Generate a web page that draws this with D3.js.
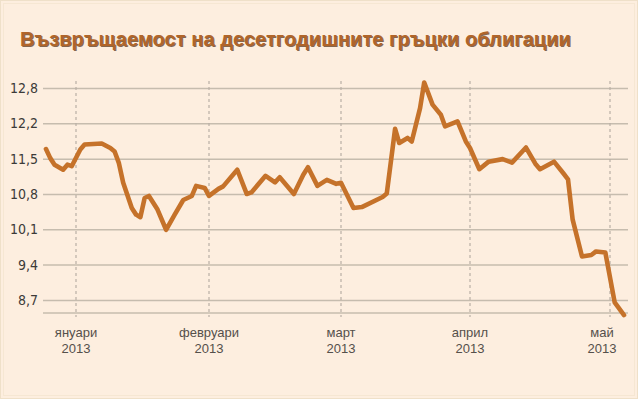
<!DOCTYPE html>
<html>
<head>
<meta charset="utf-8">
<script src="https://cdn.jsdelivr.net/npm/d3@7"></script>
<style>
  html, body { margin: 0; padding: 0; background: #fdeedf; }
  svg { display: block; }
</style>
</head>
<body>
<div id="chart"></div>
<script>
/**
 * CONSTANTS AND GLOBALS
 * */
const width = 638,
  height = 399;

const title = "Възвръщаемост на десетгодишните гръцки облигации";

// yield readings, one per turning point of the line
const dates = [
  "2012-12-25", "2012-12-26", "2012-12-27", "2012-12-29", "2012-12-30", "2012-12-31",
  "2013-01-02", "2013-01-03", "2013-01-07", "2013-01-09", "2013-01-10", "2013-01-11",
  "2013-01-12", "2013-01-14", "2013-01-15", "2013-01-16", "2013-01-17", "2013-01-18",
  "2013-01-20", "2013-01-22", "2013-01-24", "2013-01-26", "2013-01-28", "2013-01-29",
  "2013-01-31", "2013-02-01", "2013-02-03", "2013-02-04", "2013-02-07", "2013-02-09",
  "2013-02-10", "2013-02-13", "2013-02-15", "2013-02-16", "2013-02-19", "2013-02-21",
  "2013-02-22", "2013-02-24", "2013-02-26", "2013-02-28", "2013-03-01", "2013-03-04",
  "2013-03-06", "2013-03-11", "2013-03-12", "2013-03-14", "2013-03-15", "2013-03-17",
  "2013-03-18", "2013-03-20", "2013-03-21", "2013-03-23", "2013-03-25", "2013-03-26",
  "2013-03-29", "2013-03-31", "2013-04-01", "2013-04-03", "2013-04-05", "2013-04-08",
  "2013-04-10", "2013-04-13", "2013-04-15", "2013-04-16", "2013-04-19", "2013-04-21",
  "2013-04-22", "2013-04-23", "2013-04-25", "2013-04-27", "2013-04-28", "2013-04-30",
  "2013-05-02", "2013-05-04"
];
const yields = [
  11.69, 11.51, 11.38, 11.28, 11.38, 11.35,
  11.68, 11.78, 11.80, 11.71, 11.64, 11.41,
  11.02, 10.52, 10.39, 10.34, 10.72, 10.76,
  10.49, 10.09, 10.39, 10.68, 10.76, 10.96,
  10.92, 10.76, 10.90, 10.95, 11.28, 10.80,
  10.83, 11.16, 11.03, 11.13, 10.80, 11.18,
  11.33, 10.96, 11.08, 11.00, 11.02, 10.52,
  10.54, 10.74, 10.81, 12.09, 11.81, 11.91,
  11.84, 12.50, 13.01, 12.57, 12.37, 12.14,
  12.24, 11.84, 11.71, 11.29, 11.44, 11.49,
  11.42, 11.72, 11.40, 11.29, 11.44, 11.21,
  11.09, 10.29, 9.56, 9.59, 9.66, 9.64,
  8.65, 8.40
];

// axes
const monthStarts = ["2013-01-01", "2013-02-01", "2013-03-01", "2013-04-01", "2013-05-01"];
const monthNames = ["януари", "февруари", "март", "април", "май"];
const monthYears = ["2013", "2013", "2013", "2013", "2013"];
const yTicks = [8.7, 9.4, 10.1, 10.8, 11.5, 12.2, 12.9];
const yTickLabels = ["8,7", "9,4", "10,1", "10,8", "11,5", "12,2", "12,8"];

const parse = d3.timeParse("%Y-%m-%d");
const data = dates.map((d, i) => ({ date: parse(d), value: yields[i] }));

/**
 * SCALES
 * */
// months are not spaced evenly in the original, so a piecewise time scale
const x = d3.scaleTime()
  .domain(monthStarts.map(parse))
  .range([76, 209, 341, 470, 610]);

const y = d3.scaleLinear()
  .domain([8.44, 12.9])
  .range([313, 88]);

const gridLeft = 43,
  gridRight = 628;

/**
 * DRAW
 * */
const svg = d3.select("#chart")
  .append("svg")
  .attr("width", width)
  .attr("height", height);

svg.append("rect")
  .attr("x", 0.5).attr("y", 0.5)
  .attr("width", width - 1).attr("height", height - 1)
  .attr("fill", "#fdeedf")
  .attr("stroke", "#efe0c9");

svg.append("rect")
  .attr("x", 3.5).attr("y", 3.5)
  .attr("width", width - 7).attr("height", height - 7)
  .attr("fill", "none")
  .attr("stroke", "#f6e7d3");

// title, with a dark offset copy as its shadow
const titleG = svg.append("g")
  .attr("font-family", "'Liberation Sans', Arial, sans-serif")
  .attr("font-weight", "bold")
  .attr("font-size", 21);

titleG.append("text")
  .attr("x", 21).attr("y", 47)
  .attr("fill", "#5e3b1f")
  .attr("opacity", 0.75)
  .attr("textLength", 551)
  .attr("lengthAdjust", "spacingAndGlyphs")
  .text(title);

titleG.append("text")
  .attr("x", 20).attr("y", 46)
  .attr("fill", "#b0652a")
  .attr("textLength", 551)
  .attr("lengthAdjust", "spacingAndGlyphs")
  .text(title);

// horizontal grid + y labels
const yAxis = d3.axisLeft(y)
  .tickValues(yTicks)
  .tickSize(-(gridRight - gridLeft))
  .tickPadding(5)
  .tickFormat((d, i) => yTickLabels[i]);

const yG = svg.append("g")
  .attr("transform", `translate(${gridLeft},0)`)
  .call(yAxis);

yG.select(".domain").remove();
yG.selectAll(".tick line")
  .attr("stroke", "#c6bcae")
  .attr("stroke-width", 1.5);
yG.selectAll(".tick text")
  .attr("font-family", "'Liberation Sans Narrow', 'DejaVu Sans Condensed', sans-serif")
  .attr("font-size", 14)
  .attr("fill", "#3c3a38");

// bottom line
svg.append("line")
  .attr("x1", gridLeft).attr("x2", gridRight)
  .attr("y1", y(8.44)).attr("y2", y(8.44))
  .attr("stroke", "#c6bcae")
  .attr("stroke-width", 1.5);

// month dashed lines and labels
const months = svg.append("g")
  .selectAll("g")
  .data(monthStarts.map(parse))
  .join("g")
  .attr("transform", d => `translate(${x(d)},0)`);

months.append("line")
  .attr("y1", 81).attr("y2", 317)
  .attr("stroke", "#b9b0a6")
  .attr("stroke-width", 1.2)
  .attr("stroke-dasharray", "3,3");

const labels = months.append("text")
  .attr("text-anchor", "middle")
  .attr("font-family", "'Liberation Sans', Arial, sans-serif")
  .attr("font-size", 13)
  .attr("fill", "#55504b")
  .attr("transform", (d, i) => i === monthStarts.length - 1 ? "translate(-8,0)" : null);

labels.append("tspan")
  .attr("x", 0).attr("y", 337)
  .text((d, i) => monthNames[i]);
labels.append("tspan")
  .attr("x", 0).attr("y", 353)
  .text((d, i) => monthYears[i]);

// the yield line
const line = d3.line()
  .x(d => x(d.date))
  .y(d => y(d.value));

svg.append("path")
  .datum(data)
  .attr("d", line)
  .attr("fill", "none")
  .attr("stroke", "#c5722a")
  .attr("stroke-width", 4.6)
  .attr("stroke-linejoin", "round")
  .attr("stroke-linecap", "round");
</script>
</body>
</html>
